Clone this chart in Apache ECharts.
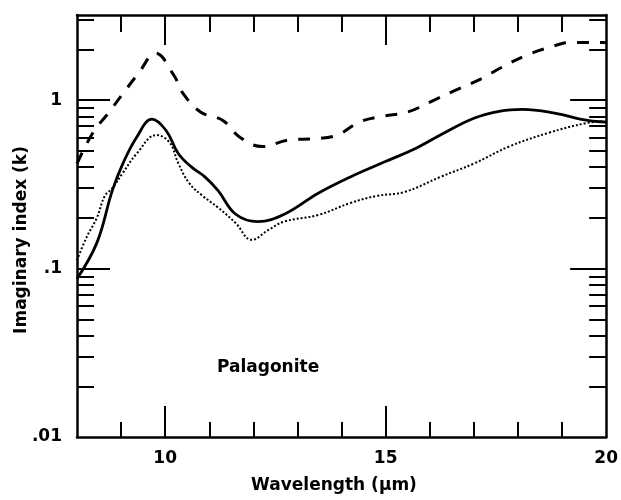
<!DOCTYPE html>
<html><head><meta charset="utf-8">
<script src="https://cdn.jsdelivr.net/npm/echarts@6/dist/echarts.min.js"></script>
<style>html,body{margin:0;padding:0;background:#fff}#c{width:621px;height:500px}</style>
</head><body><div id="c"></div>
<script>
// Data (wavelength µm, imaginary index k)
var solidX = [8.0, 8.45, 8.8, 9.04, 9.35, 9.7, 10.02, 10.3, 10.6, 10.9, 11.2, 11.6, 12.1, 12.7, 13.47, 14.2, 14.98, 15.7, 16.24, 17.0, 17.6, 18.1, 18.8, 19.55, 20.0];
var solidK = [0.087, 0.142, 0.29, 0.42, 0.6, 0.77, 0.66, 0.48, 0.40, 0.35, 0.29, 0.21, 0.19, 0.21, 0.28, 0.35, 0.43, 0.52, 0.62, 0.78, 0.86, 0.88, 0.84, 0.76, 0.74];
var dashX = [8.0, 8.36, 8.7, 9.05, 9.4, 9.78, 10.2, 10.4, 10.8, 11.3, 11.7, 12.2, 12.8, 13.4, 13.9, 14.4, 14.9, 15.5, 16.1, 16.6, 17.2, 17.6, 18.2, 18.7, 19.2, 19.8, 20.0];
var dashK = [0.42, 0.64, 0.83, 1.1, 1.45, 1.9, 1.4, 1.1, 0.85, 0.76, 0.6, 0.53, 0.58, 0.59, 0.62, 0.74, 0.8, 0.85, 1.0, 1.15, 1.35, 1.55, 1.85, 2.05, 2.2, 2.2, 2.2];
var dotX = [8.0, 8.22, 8.45, 8.63, 8.8, 9.04, 9.35, 9.8, 10.1, 10.3, 10.55, 10.85, 11.2, 11.6, 11.96, 12.35, 12.7, 13.47, 14.2, 14.8, 15.43, 16.24, 17.0, 17.8, 18.7, 19.55, 19.95];
var dotK = [0.112, 0.154, 0.2, 0.27, 0.30, 0.37, 0.48, 0.62, 0.56, 0.42, 0.32, 0.27, 0.23, 0.186, 0.148, 0.17, 0.19, 0.208, 0.245, 0.27, 0.285, 0.35, 0.42, 0.53, 0.64, 0.73, 0.75];
var xLabels = [10, 15, 20];
var xMajor = [10, 15];
var xMinor = [9, 11, 12, 13, 14, 16, 17, 18, 19];
var yLabels = [0.01, 0.1, 1];
var yLabelText = ['.01', '.1', '1'];
var yMajor = [0.1, 1];
var yMinor = [0.02,0.03,0.04,0.05,0.06,0.07,0.08,0.09,0.2,0.3,0.4,0.5,0.6,0.7,0.8,0.9,2,3];

function zip(a, b) { return a.map(function (v, i) { return [v, b[i]]; }); }
var FONT = '"DejaVu Sans", sans-serif';
var chart = echarts.init(document.getElementById('c'), null, {renderer: 'canvas'});

function xAx(pos, ticks, len, showLine, showLabel) {
  return {
    type: 'value', position: pos, min: 8, max: 20, interval: 1, gridIndex: 0,
    axisLine: {show: showLine, onZero: false, lineStyle: {color: '#000', width: 2.5}},
    axisTick: {show: true, inside: true, length: len, customValues: ticks, lineStyle: {color: '#000', width: 2}},
    axisLabel: {show: showLabel, customValues: xLabels, margin: 13, color: '#000', fontFamily: FONT, fontWeight: 'bold', fontSize: 17},
    splitLine: {show: false}
  };
}
function yAx(pos, ticks, len, showLine, showLabel) {
  return {
    type: 'log', position: pos, min: 0.01, max: 3.2, logBase: 10,
    axisLine: {show: showLine, onZero: false, lineStyle: {color: '#000', width: 2.5}},
    axisTick: {show: true, inside: true, length: len, customValues: ticks, lineStyle: {color: '#000', width: 2}},
    axisLabel: {show: showLabel, customValues: yLabels, margin: 15, color: '#000', fontFamily: FONT, fontWeight: 'bold', fontSize: 17,
      formatter: function (v) {
        for (var i = 0; i < yLabels.length; i++) if (Math.abs(v - yLabels[i]) / yLabels[i] < 1e-6) return yLabelText[i];
        return '';
      }},
    splitLine: {show: false}
  };
}

chart.setOption({
  animation: false,
  backgroundColor: '#fff',
  grid: {left: 77, right: 11, top: 15, bottom: 63, containLabel: false},
  xAxis: [
    xAx('bottom', xMinor, 15, true, true),
    xAx('bottom', xMajor, 31, false, false),
    xAx('top', xMinor, 17, true, false),
    xAx('top', xMajor, 30, false, false)
  ],
  yAxis: [
    yAx('left', yMinor, 17, true, true),
    yAx('left', yMajor, 33, false, false),
    yAx('right', yMinor, 17, true, false),
    yAx('right', yMajor, 36, false, false)
  ],
  graphic: [
    {type: 'text', x: 217, y: 359,
     style: {text: 'Palagonite', fill: '#000', font: 'bold 17px ' + FONT, textAlign: 'left', textVerticalAlign: 'top'}},
    {type: 'text', x: 334, y: 486,
     style: {text: 'Wavelength (µm)', fill: '#000', font: 'bold 17px ' + FONT, textAlign: 'center', textVerticalAlign: 'middle'}},
    {type: 'text', x: 22, y: 240, rotation: Math.PI / 2,
     style: {text: 'Imaginary index (k)', fill: '#000', font: 'bold 17px ' + FONT, textAlign: 'center', textVerticalAlign: 'middle'}}
  ],
  series: [
    {type: 'line', data: zip(solidX, solidK), smooth: 0.4, showSymbol: false,
     lineStyle: {color: '#000', width: 2.8, type: 'solid'}},
    {type: 'line', data: zip(dashX, dashK), smooth: 0.4, showSymbol: false,
     lineStyle: {color: '#000', width: 3, type: [12, 11]}},
    {type: 'line', data: zip(dotX, dotK), smooth: 0.4, showSymbol: false,
     lineStyle: {color: '#000', width: 2, type: [2, 2]}}
  ]
});
</script></body></html>
